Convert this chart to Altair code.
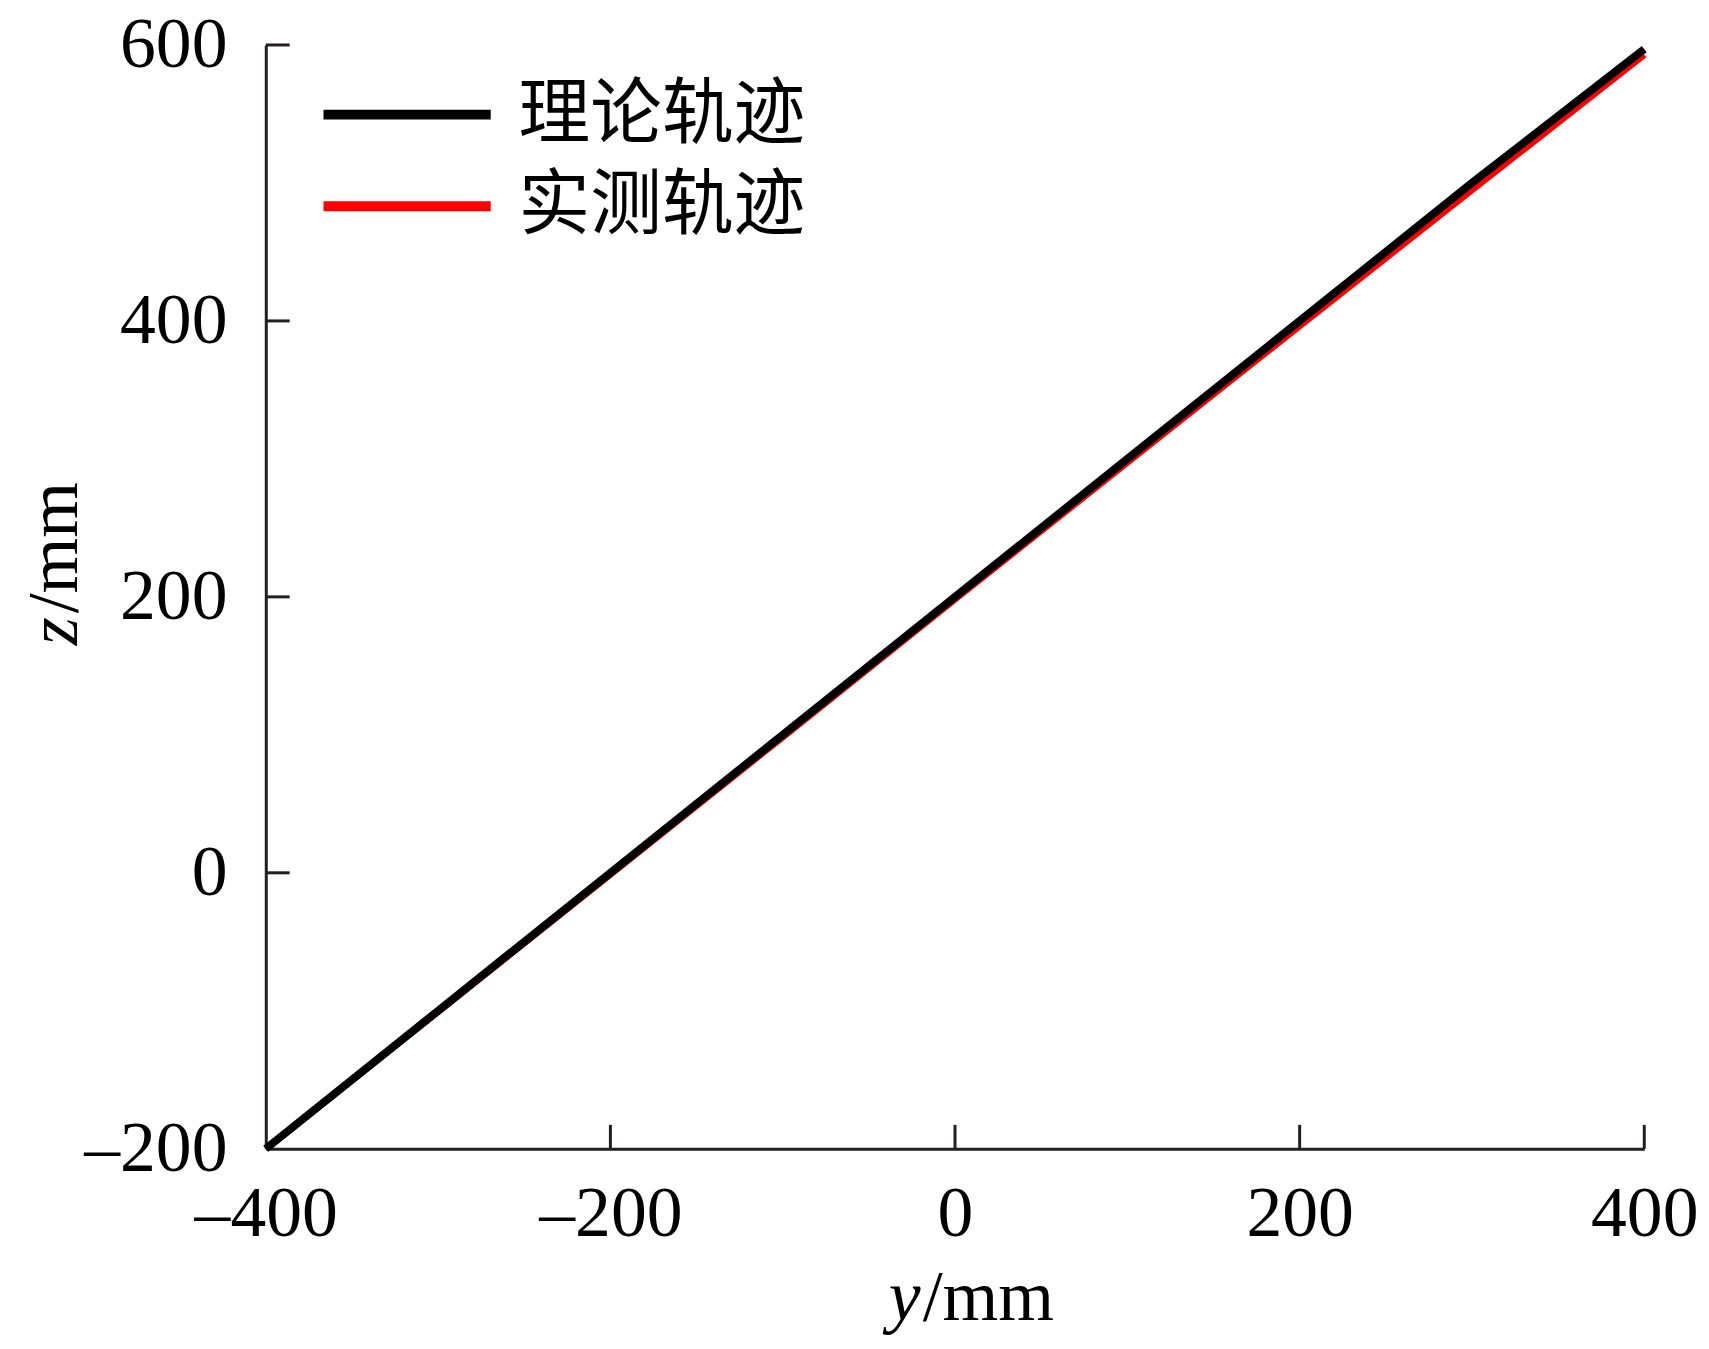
import altair as alt
import pandas as pd

# ---- data ----
y_mm = [-400, -300, -200, -100, 0, 100, 200, 300, 400]
theory_z = [-200, -100, 0, 100, 200, 300, 400, 500, 597]
measured_z = [-200, -100.5, -1, 98.5, 198.5, 297.5, 396.5, 495, 593]
series_names = ["理论轨迹", "实测轨迹"]
series_colors = ["#000000", "#ff0000"]
x_tick_vals = [-200, 0, 200, 400]
y_tick_vals = [0, 200, 400, 600]
x_label_vals = [-400, -200, 0, 200, 400]
y_label_vals = [-200, 0, 200, 400, 600]

W, H = 1385, 1109
AX = "#231f20"
SERIF = "Liberation Serif"

theory = pd.DataFrame({"y": y_mm, "z": theory_z, "series": series_names[0]})
measured = pd.DataFrame({"y": y_mm, "z": measured_z, "series": series_names[1]})

label_expr = "datum.value < 0 ? '\u2013' + abs(datum.value) : '' + datum.value"

x_axis = alt.Axis(values=x_label_vals, title=None, ticks=False, grid=False,
                  domainColor=AX, domainWidth=3, labelFont=SERIF, labelFontSize=72,
                  labelColor="#000000", labelPadding=30, labelFlush=False,
                  labelExpr=label_expr)
y_axis = alt.Axis(values=y_label_vals, title=None, ticks=False, grid=False,
                  domainColor=AX, domainWidth=3, labelFont=SERIF, labelFontSize=72,
                  labelColor="#000000", labelPadding=39, labelFlush=False,
                  labelExpr=label_expr)

xs = alt.Scale(domain=[-400, 400], nice=False, zero=False)
ys = alt.Scale(domain=[-200, 600], nice=False, zero=False)

color = alt.Color("series:N",
                  scale=alt.Scale(domain=series_names, range=series_colors),
                  legend=alt.Legend(title=None, orient="none", legendX=102, legendY=30,
                                    symbolType="M-2.4,0H2.4", symbolSize=4900,
                                    symbolStrokeWidth=10, labelFont="Noto Sans CJK SC",
                                    labelFontSize=72, labelColor="#000000",
                                    labelLimit=600, labelOffset=72, rowPadding=16,
                                    padding=0))

red = alt.Chart(measured).mark_line(strokeWidth=7).encode(
    x=alt.X("y:Q", scale=xs, axis=x_axis),
    y=alt.Y("z:Q", scale=ys, axis=y_axis),
    color=color,
)
black = alt.Chart(theory).mark_line(strokeWidth=8).encode(
    x=alt.X("y:Q", scale=xs, axis=x_axis),
    y=alt.Y("z:Q", scale=ys, axis=y_axis),
    color=color,
)

xt = alt.Chart(pd.DataFrame({"y": x_tick_vals})).mark_rule(color=AX, strokeWidth=3).encode(
    x=alt.X("y:Q", scale=xs, axis=x_axis),
    y=alt.value(H),
    y2=alt.value(H - 24),
)
yt = alt.Chart(pd.DataFrame({"z": y_tick_vals})).mark_rule(color=AX, strokeWidth=3).encode(
    y=alt.Y("z:Q", scale=ys, axis=y_axis),
    x=alt.value(0),
    x2=alt.value(24),
)

def txt(s, x, y, italic=False, align="left", angle=0):
    kw = dict(font=SERIF, fontSize=72, color="#000000", align=align,
              baseline="alphabetic", angle=angle)
    if italic:
        kw["fontStyle"] = "italic"
    return alt.Chart(pd.DataFrame({"t": [s]})).mark_text(**kw).encode(
        text="t:N", x=alt.value(x), y=alt.value(y))

xt1 = txt("y", 658, 1281, italic=True, align="right")
xt2 = txt("/mm", 660, 1281)
yt1 = txt("z", -190, 575, italic=True, align="right", angle=270)
yt2 = txt("/mm", -190, 571, align="left", angle=270)

chart = alt.layer(red, black, xt, yt, xt1, xt2, yt1, yt2).properties(
    width=W, height=H,
    autosize=alt.AutoSizeParams(type="none"),
    padding={"left": 259, "top": 34, "right": 57, "bottom": 190},
    view=alt.ViewBackground(stroke="#ffffff", strokeWidth=0),
).configure_view(stroke="#ffffff", strokeWidth=0).configure(background="#ffffff")

chart.save("out.html", embed_options={"renderer": "svg", "actions": False})
